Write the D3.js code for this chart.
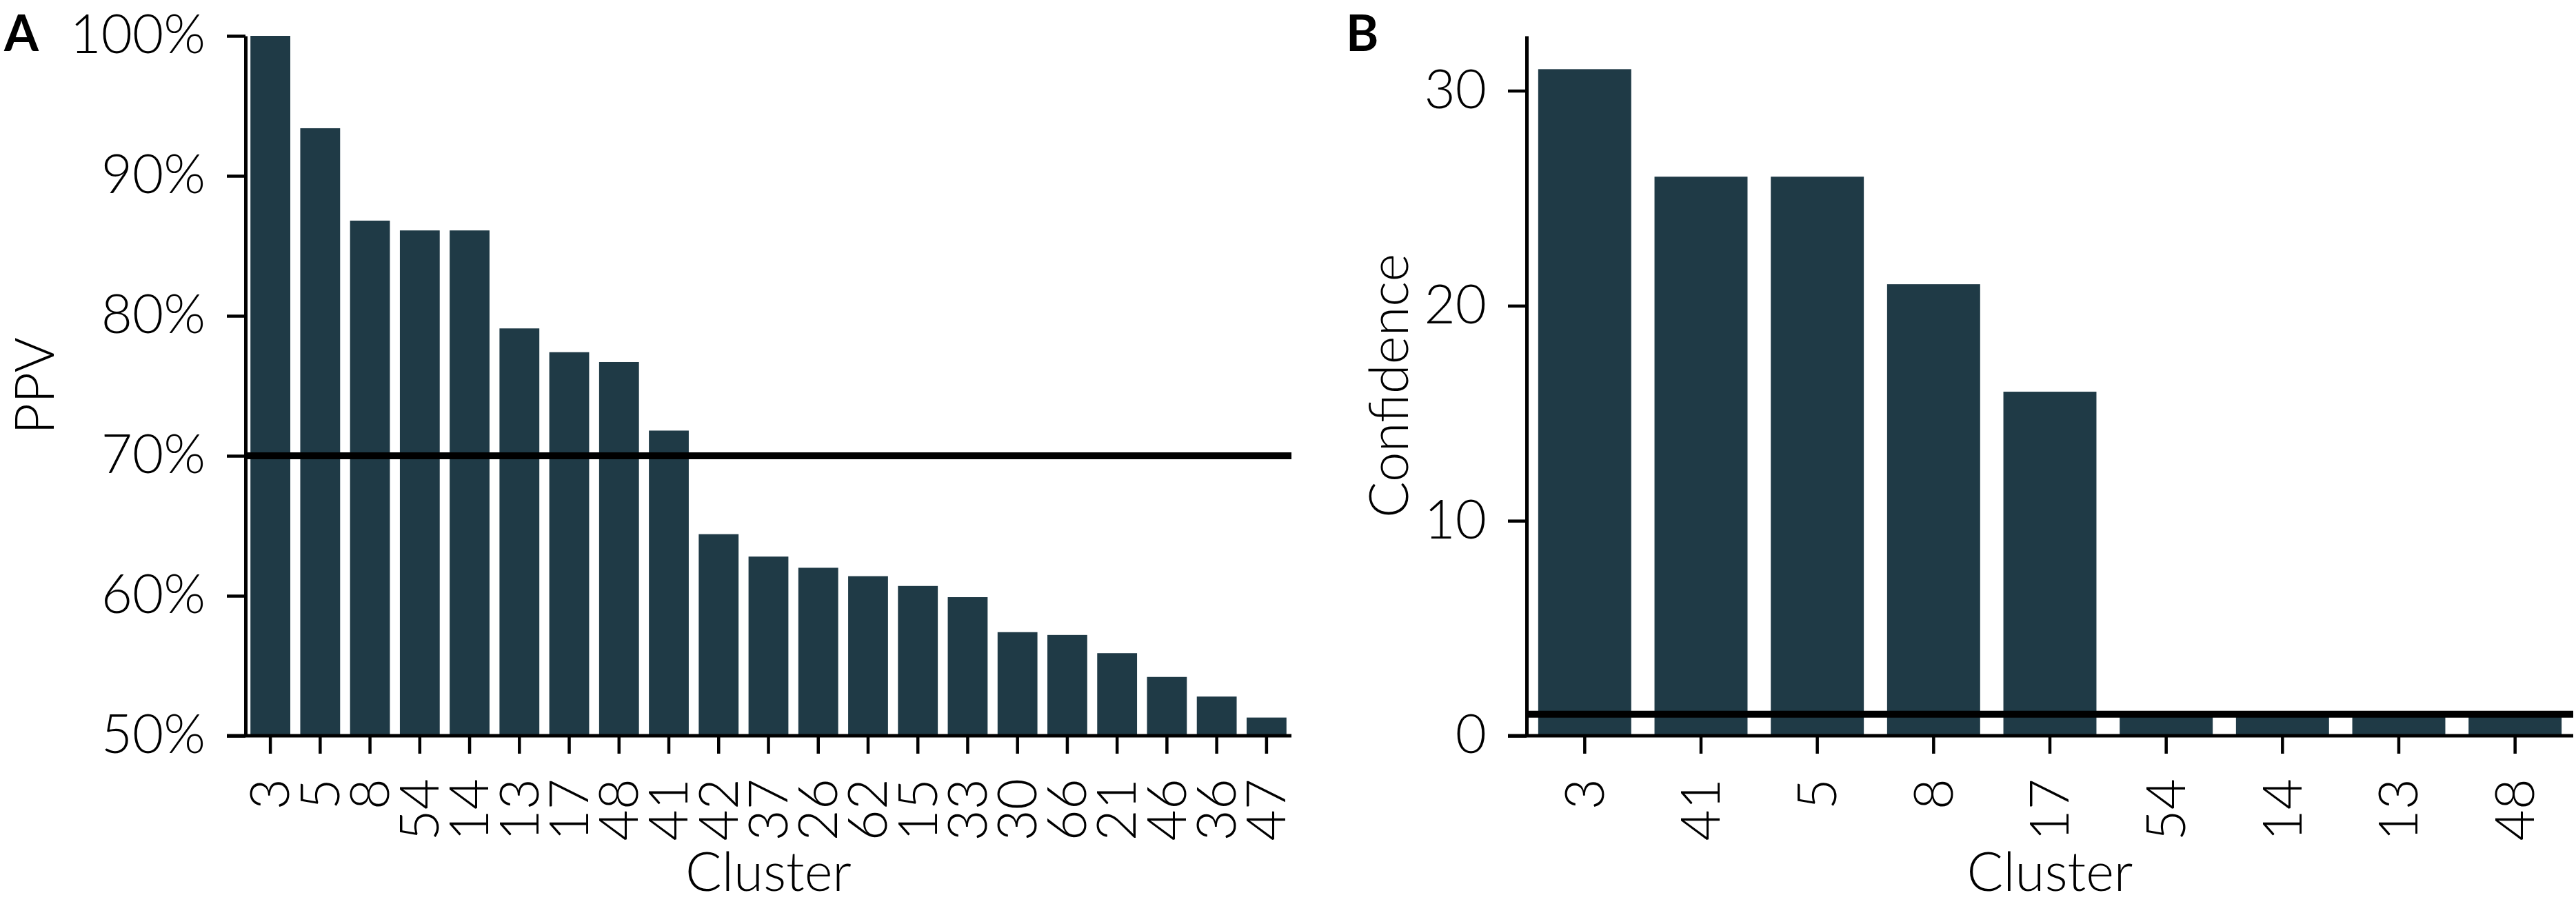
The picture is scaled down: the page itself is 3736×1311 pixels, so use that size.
<!DOCTYPE html>
<html>
<head>
<meta charset="utf-8">
<script src="https://cdn.jsdelivr.net/npm/d3@7"></script>
<style>
  html, body { margin: 0; padding: 0; background: #fff; }
  svg { display: block; }
  text { font-family: "Lato", "DejaVu Sans", sans-serif; font-weight: 300; fill: #000; }
</style>
</head>
<body>
<svg id="chart" width="3736" height="1311"></svg>
<script>
// ---- data ----
const clustersA = ["3","5","8","54","14","13","17","48","41","42","37","26","62","15","33","30","66","21","46","36","47"];
const ppvValues = [100, 93.4, 86.8, 86.1, 86.1, 79.1, 77.4, 76.7, 71.8, 64.4, 62.8, 62.0, 61.4, 60.7, 59.9, 57.4, 57.2, 55.9, 54.2, 52.8, 51.3];
const ppvTicks = [50, 60, 70, 80, 90, 100];
const ppvThreshold = 70;

const clustersB = ["3","41","5","8","17","54","14","13","48"];
const confValues = [31, 26, 26, 21, 16, 1, 1, 1, 1];
const confTicks = [0, 10, 20, 30];
const confThreshold = 1;

// ---- style ----
const barColor = "#1f3a46";
const fontSize = 78;
const svg = d3.select("#chart");

function panel(opts) {
  const g = svg.append("g");
  const x = d3.scaleBand().domain(opts.cats).range(opts.xRange).paddingInner(0.2).paddingOuter(0.1);
  const y = d3.scaleLinear().domain(opts.yDomain).range(opts.yRange);
  const base = opts.yDomain[0];

  // bars
  g.selectAll("rect.bar").data(opts.values).enter().append("rect")
    .attr("class", "bar")
    .attr("x", (d, i) => x(opts.cats[i]))
    .attr("width", x.bandwidth())
    .attr("y", d => y(d))
    .attr("height", d => y(base) - y(d))
    .attr("fill", barColor);

  // threshold line
  g.append("line")
    .attr("x1", opts.xRange[0]).attr("x2", opts.xRange[1])
    .attr("y1", y(opts.threshold)).attr("y2", y(opts.threshold))
    .attr("stroke", "#000").attr("stroke-width", 10);

  // y axis
  const yAxis = d3.axisLeft(y).tickValues(opts.yTicks).tickFormat(opts.yFormat)
    .tickSize(27).tickSizeOuter(0).tickPadding(31);
  const ya = g.append("g").attr("transform", `translate(${opts.xRange[0]},0)`).call(yAxis);
  ya.select(".domain").attr("stroke-width", 5);
  ya.selectAll(".tick line").attr("stroke-width", 4.5);
  ya.selectAll(".tick text").style("font-size", fontSize + "px").style("font-family", null);

  // x axis
  const xAxis = d3.axisBottom(x).tickSize(26).tickSizeOuter(0).tickPadding(36);
  const xa = g.append("g").attr("transform", `translate(0,${y(base)})`).call(xAxis);
  xa.select(".domain").attr("stroke-width", 5)
    .attr("d", `M${opts.xRange[0] - 27},0H${opts.xRange[1]}`);
  xa.selectAll(".tick line").attr("stroke-width", 4.5);
  xa.selectAll(".tick text")
    .style("font-size", fontSize + "px").style("font-family", null)
    .attr("text-anchor", "end")
    .attr("transform", "rotate(-90)")
    .attr("x", -62).attr("y", 0).attr("dy", "0.35em");

  // axis titles
  g.append("text")
    .attr("x", (opts.xRange[0] + opts.xRange[1]) / 2).attr("y", 1292)
    .attr("text-anchor", "middle").style("font-size", "78px")
    .text("Cluster");
  g.append("text")
    .attr("transform", `translate(${opts.yLabelX},${(opts.yRange[0] + opts.yRange[1]) / 2}) rotate(-90)`)
    .attr("text-anchor", "middle").style("font-size", "78px")
    .text(opts.yLabel);

  // panel letter
  g.append("text")
    .attr("x", opts.letterX).attr("y", 74)
    .style("font-size", "72px").style("font-weight", 700)
    .text(opts.letter);
}

panel({
  cats: clustersA, values: ppvValues,
  xRange: [356, 1873], yDomain: [50, 100], yRange: [1067, 52],
  yTicks: ppvTicks, yFormat: d => d + "%",
  threshold: ppvThreshold, yLabel: "PPV", yLabelX: 78,
  letter: "A", letterX: 6
});

panel({
  cats: clustersB, values: confValues,
  xRange: [2214, 3732], yDomain: [0, 32.55], yRange: [1067, 52],
  yTicks: confTicks, yFormat: d3.format("d"),
  threshold: confThreshold, yLabel: "Confidence", yLabelX: 2042,
  letter: "B", letterX: 1952
});
</script>
</body>
</html>
